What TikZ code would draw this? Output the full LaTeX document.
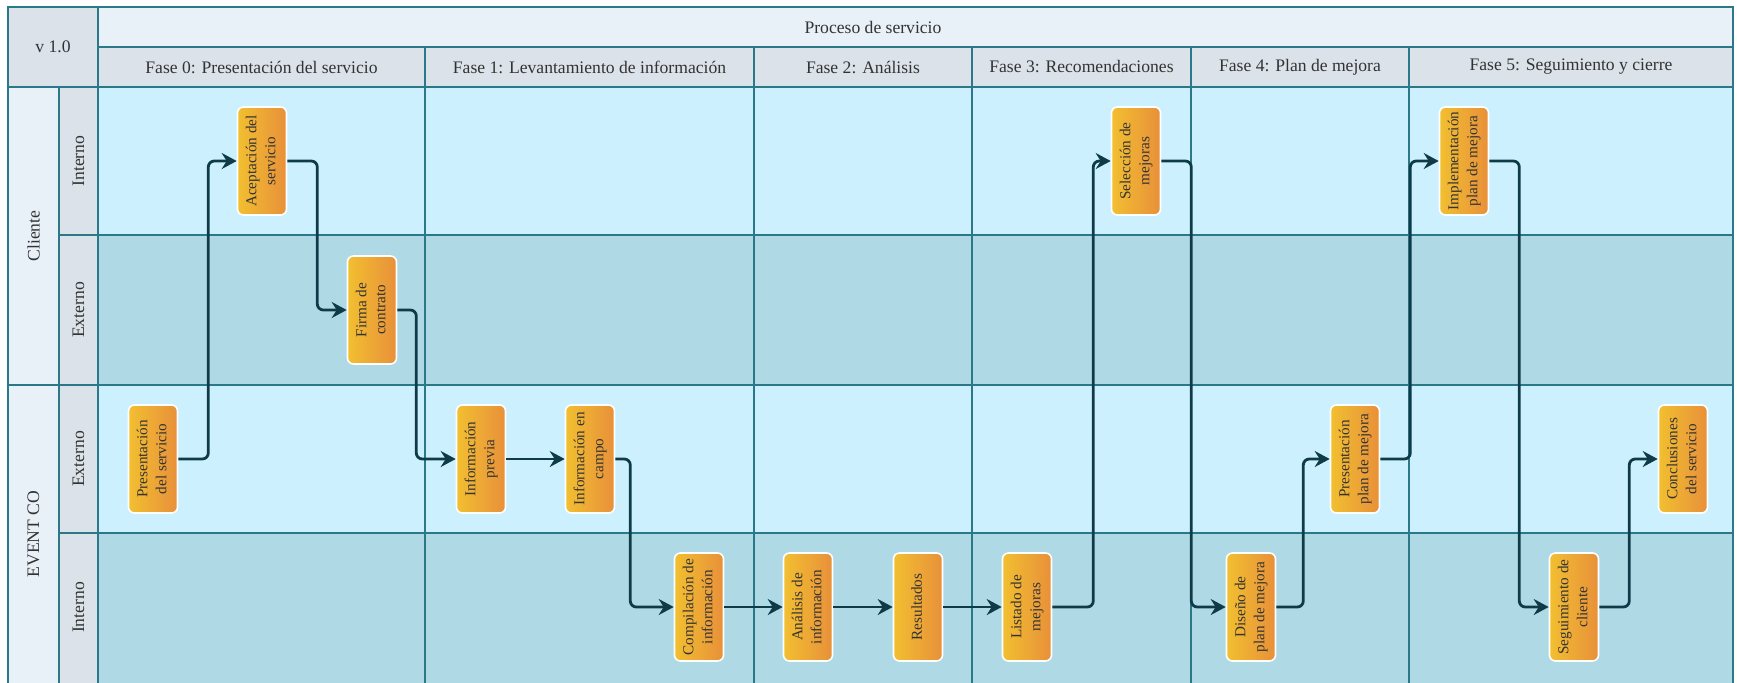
\documentclass[tikz,border=0pt]{standalone}
\usepackage{fontspec}
\setmainfont{Liberation Serif}
\usetikzlibrary{arrows.meta}

\definecolor{gridline}{HTML}{2B7888}
\definecolor{headtop}{HTML}{E8F0F8}
\definecolor{headgray}{HTML}{DCE2E9}
\definecolor{lanelight}{HTML}{CCF0FE}
\definecolor{lanedark}{HTML}{B0D9E6}
\definecolor{boxleft}{HTML}{F2BF30}
\definecolor{boxright}{HTML}{E8903A}
\definecolor{flowline}{HTML}{0F3B48}
\definecolor{txt}{HTML}{333333}

\newcommand{\vlab}[1]{\rotatebox{90}{\begin{tabular}{@{}c@{}}#1\end{tabular}}}

\begin{document}
\begin{tikzpicture}[x=0.5pt, y=-0.5pt,
    grid/.style={draw=gridline, line width=1.1pt},
    headtxt/.style={font=\fontsize{8.8}{10.5}\selectfont, text=txt},
    lanetxt/.style={font=\fontsize{8.8}{10.5}\selectfont, text=txt, rotate=90},
    task/.style={draw=white, line width=0.8pt, rounded corners=3pt,
      left color=boxleft, right color=boxright, minimum width=24.5pt,
      minimum height=54pt, inner sep=0pt, text=txt,
      font=\fontsize{7.6}{9.5}\selectfont},
    flow/.style={draw=flowline, line width=1.4pt, rounded corners=3pt,
      -{Stealth[length=7.5pt, width=8pt, inset=2.5pt]}}]
  \useasboundingbox (0,0) rectangle (1737,682);

  % backgrounds
  \fill[headgray] (8,7) rectangle (98,87);
  \fill[headtop] (98,7) rectangle (1733,47);
  \fill[headgray] (98,47) rectangle (1733,87);
  \fill[headtop] (8,87) rectangle (59,690);
  \fill[headgray] (59,87) rectangle (98,690);
  \fill[lanelight] (98,87) rectangle (1733,235);
  \fill[lanedark] (98,235) rectangle (1733,385);
  \fill[lanelight] (98,385) rectangle (1733,533);
  \fill[lanedark] (98,533) rectangle (1733,690);

  % grid lines
  \draw[grid] (8,7) rectangle (1733,690);
  \draw[grid] (98,47) -- (1733,47);
  \draw[grid] (8,87) -- (1733,87);
  \draw[grid] (8,385) -- (1733,385);
  \foreach \y in {235,533}
    \draw[grid] (59,\y) -- (1733,\y);
  \draw[grid] (98,7) -- (98,690);
  \draw[grid] (59,87) -- (59,690);
  \foreach \x in {425,754,972,1191,1409}
    \draw[grid] (\x,47) -- (\x,690);

  % headers
  \node[headtxt] (ver) at (53,47) {v 1.0};
  \node[headtxt] (proc) at (873,27) {Proceso de servicio};
  \foreach \x/\t [count=\i from 0] in {261.5/Fase 0: Presentación del servicio,
      589.5/Fase 1: Levantamiento de información, 863/Fase 2: Análisis,
      1081.5/Fase 3: Recomendaciones, 1300/Fase 4: Plan de mejora,
      1571/Fase 5: Seguimiento y cierre}
    \node[headtxt] (ph\i) at (\x,67) {\t};

  % lanes
  \node[lanetxt] (cli) at (33.5,236) {Cliente};
  \node[lanetxt] (evt) at (33.5,534) {EVENT CO};
  \foreach \y/\t [count=\i] in {161/Interno, 310/Externo, 459/Externo, 607.5/Interno}
    \node[lanetxt] (lane\i) at (78.5,\y) {\t};

  % tasks
  \node[task] (pres) at (153,459) {\vlab{Presentación\\del servicio}};
  \node[task] (acep) at (262,161) {\vlab{Aceptación del\\servicio}};
  \node[task] (firma) at (372,310) {\vlab{Firma de\\contrato}};
  \node[task] (iprev) at (481,459) {\vlab{Información\\previa}};
  \node[task] (icampo) at (590,459) {\vlab{Información en\\campo}};
  \node[task] (compil) at (699,607) {\vlab{Compilación de\\información}};
  \node[task] (anal) at (808,607) {\vlab{Análisis de\\información}};
  \node[task] (result) at (918,607) {\vlab{Resultados}};
  \node[task] (listado) at (1027,607) {\vlab{Listado de\\mejoras}};
  \node[task] (selec) at (1136,161) {\vlab{Selección de\\mejoras}};
  \node[task] (diseno) at (1251,607) {\vlab{Diseño de\\plan de mejora}};
  \node[task] (presplan) at (1355,459) {\vlab{Presentación\\plan de mejora}};
  \node[task] (impl) at (1464,161) {\vlab{Implementación\\plan de mejora}};
  \node[task] (seguim) at (1574,607) {\vlab{Seguimiento de\\cliente}};
  \node[task] (concl) at (1683,459) {\vlab{Conclusiones\\del servicio}};

  % flow
  \draw[flow] (pres.east) -- ++(30,0) |- (acep.west);
  \draw[flow] (acep.east) -- ++(30,0) |- (firma.west);
  \draw[flow] (firma.east) -- ++(19,0) |- (iprev.west);
  \draw[flow] (iprev) -- (icampo);
  \draw[flow] (icampo.east) -- ++(15,0) |- (compil.west);
  \draw[flow] (compil) -- (anal);
  \draw[flow] (anal) -- (result);
  \draw[flow] (result) -- (listado);
  \draw[flow] (listado.east) -- ++(41,0) |- (selec.west);
  \draw[flow] (selec.east) -- ++(30,0) |- (diseno.west);
  \draw[flow] (diseno.east) -- ++(27,0) |- (presplan.west);
  \draw[flow] (presplan.east) -- ++(30,0) |- (impl.west);
  \draw[flow] (impl.east) -- ++(30,0) |- (seguim.west);
  \draw[flow] (seguim.east) -- ++(30,0) |- (concl.west);
\end{tikzpicture}
\end{document}
